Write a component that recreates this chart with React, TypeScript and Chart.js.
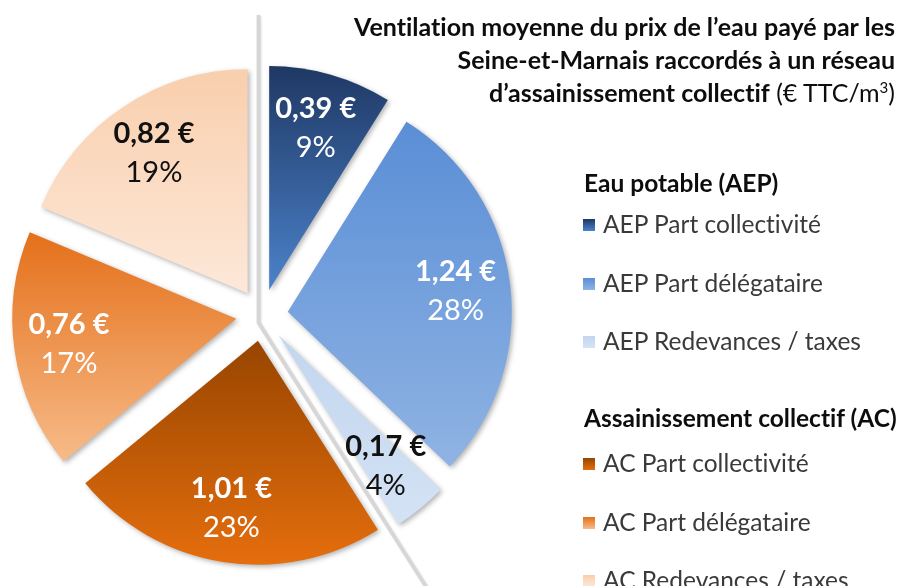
import React, { useEffect, useRef } from 'react';
import { Chart, registerables } from 'chart.js';

Chart.register(...registerables);

// ---------- data ----------
const categories = [
  'AEP Part collectivité',
  'AEP Part délégataire',
  'AEP Redevances / taxes',
  'AC Part collectivité',
  'AC Part délégataire',
  'AC Redevances / taxes',
];
const values = [0.39, 1.24, 0.17, 1.01, 0.76, 0.82];
const groupOf = [0, 0, 0, 1, 1, 1];
const groupTitles = ['Eau potable (AEP)', 'Assainissement collectif (AC)'];
const topColors = ['#1f3864', '#5a8ed6', '#c2d6ef', '#974500', '#e4701a', '#f9cfad'];
const bottomColors = ['#4b82ca', '#8fb3e3', '#d4e2f4', '#e56e0d', '#f7bb89', '#fde8d9'];
const labelColors = ['#ffffff', '#ffffff', '#111111', '#ffffff', '#ffffff', '#111111'];
const titleLines = [
  'Ventilation moyenne du prix de l’eau payé par les',
  'Seine-et-Marnais raccordés à un réseau',
  'd’assainissement collectif',
];
const titleUnit = '(€ TTC/m';

// ---------- style / layout ----------
const FONT = 'Lato, "Open Sans", sans-serif';
const EXPLODE = 26;
const RADIUS = 224;
const LABEL_POS = 0.755;
const SEP_TOP = 15;

const total = values.reduce((a, b) => a + b, 0);
const fmtEuro = (v: number) => v.toFixed(2).replace('.', ',') + ' €';
const fmtPct = (v: number) => Math.round((v / total) * 100) + '%';

function shiftVec(arc: any) {
  const mid = (arc.startAngle + arc.endAngle) / 2;
  return { x: Math.cos(mid) * EXPLODE, y: Math.sin(mid) * EXPLODE };
}

const explodePlugin = {
  id: 'explodeSlices',
  beforeDatasetsDraw(chart: any) {
    const ctx = chart.ctx;
    const arcs = chart.getDatasetMeta(0).data;
    if (!arcs.length) return;
    const cx = arcs[0].x;
    const cy = arcs[0].y;

    // group separators: mid-lines of the gaps between the AEP and AC groups
    const lineFor = (prev: number, next: number) => {
      const a = shiftVec(arcs[prev]);
      const b = shiftVec(arcs[next]);
      const th = arcs[next].startAngle;
      return {
        p: { x: cx + (a.x + b.x) / 2, y: cy + (a.y + b.y) / 2 },
        u: { x: Math.cos(th), y: Math.sin(th) },
      };
    };
    const firstAC = groupOf.indexOf(1);
    const L1 = lineFor(arcs.length - 1, 0);
    const L2 = lineFor(firstAC - 1, firstAC);
    const cross = (ax: number, ay: number, bx: number, by: number) => ax * by - ay * bx;
    const den = cross(L1.u.x, L1.u.y, L2.u.x, L2.u.y);
    const t = cross(L2.p.x - L1.p.x, L2.p.y - L1.p.y, L2.u.x, L2.u.y) / den;
    const J = { x: L1.p.x + t * L1.u.x, y: L1.p.y + t * L1.u.y };
    const t1 = (SEP_TOP - J.y) / L1.u.y;
    const t2 = (chart.height + 10 - J.y) / L2.u.y;
    ctx.save();
    ctx.strokeStyle = '#d6d6d6';
    ctx.lineWidth = 3.5;
    ctx.lineCap = 'butt';
    ctx.lineJoin = 'miter';
    ctx.shadowColor = 'rgba(0,0,0,0.18)';
    ctx.shadowBlur = 2;
    ctx.shadowOffsetX = 1;
    ctx.shadowOffsetY = 1;
    ctx.beginPath();
    ctx.moveTo(J.x + t1 * L1.u.x, J.y + t1 * L1.u.y);
    ctx.lineTo(J.x, J.y);
    ctx.lineTo(J.x + t2 * L2.u.x, J.y + t2 * L2.u.y);
    ctx.stroke();
    ctx.restore();

    // explode slices and give each a vertical gradient over its own extent
    arcs.forEach((arc: any, i: number) => {
      const s = shiftVec(arc);
      arc.$orig = { x: arc.x, y: arc.y };
      arc.x += s.x;
      arc.y += s.y;
      let minY = arc.y;
      let maxY = arc.y;
      const n = 60;
      for (let k = 0; k <= n; k++) {
        const a = arc.startAngle + ((arc.endAngle - arc.startAngle) * k) / n;
        const py = arc.y + arc.outerRadius * Math.sin(a);
        minY = Math.min(minY, py);
        maxY = Math.max(maxY, py);
      }
      const g = ctx.createLinearGradient(0, minY, 0, maxY);
      g.addColorStop(0, topColors[i]);
      g.addColorStop(1, bottomColors[i]);
      try {
        arc.options.backgroundColor = g;
      } catch (e) {
        /* ignore */
      }
    });

    ctx.save();
    ctx.shadowColor = 'rgba(0,0,0,0.30)';
    ctx.shadowBlur = 5;
    ctx.shadowOffsetX = 2;
    ctx.shadowOffsetY = 2;
  },
  afterDatasetsDraw(chart: any) {
    const ctx = chart.ctx;
    ctx.restore();
    const arcs = chart.getDatasetMeta(0).data;
    arcs.forEach((arc: any, i: number) => {
      const mid = (arc.startAngle + arc.endAngle) / 2;
      const r = arc.outerRadius * LABEL_POS;
      const lx = arc.x + Math.cos(mid) * r;
      const ly = arc.y + Math.sin(mid) * r;
      ctx.save();
      ctx.fillStyle = labelColors[i];
      ctx.textAlign = 'center';
      ctx.textBaseline = 'middle';
      ctx.font = `bold 29px ${FONT}`;
      ctx.fillText(fmtEuro(values[i]), lx, ly - 19);
      ctx.font = `29px ${FONT}`;
      ctx.fillText(fmtPct(values[i]), lx, ly + 20);
      ctx.restore();
      if (arc.$orig) {
        arc.x = arc.$orig.x;
        arc.y = arc.$orig.y;
      }
    });
  },
};

export default function App() {
  const canvasRef = useRef<HTMLCanvasElement | null>(null);

  useEffect(() => {
    if (!canvasRef.current) return;
    const chart = new Chart(canvasRef.current, {
      type: 'pie',
      data: {
        labels: categories,
        datasets: [
          {
            data: values,
            backgroundColor: topColors,
            borderWidth: 0,
            clip: false,
          } as any,
        ],
      },
      options: {
        responsive: false,
        animation: false,
        events: [],
        radius: RADIUS,
        layout: { padding: { left: 0, right: 381, top: 44, bottom: 0 } },
        plugins: {
          legend: { display: false },
          title: { display: false },
          tooltip: { enabled: false },
        },
      } as any,
      plugins: [explodePlugin],
    });
    return () => chart.destroy();
  }, []);

  const legendRows: { text: string; kind: 'head' | 'item'; idx: number; y: number }[] = [];
  const rowCenters = [183, 224, 283, 341, 418, 463, 522, 580];
  let r = 0;
  groupTitles.forEach((g, gi) => {
    legendRows.push({ text: g, kind: 'head', idx: -1, y: rowCenters[r++] });
    categories.forEach((c, ci) => {
      if (groupOf[ci] === gi) legendRows.push({ text: c, kind: 'item', idx: ci, y: rowCenters[r++] });
    });
  });

  return (
    <div
      style={{
        position: 'fixed',
        left: 0,
        top: 0,
        width: 905,
        height: 586,
        overflow: 'hidden',
        background: '#ffffff',
        fontFamily: FONT,
        fontVariantLigatures: 'none',
      }}
    >
      <canvas ref={canvasRef} width={905} height={586} style={{ position: 'absolute', left: 0, top: 0 }} />
      <div
        style={{
          position: 'absolute',
          right: 10,
          top: 10,
          textAlign: 'right',
          fontSize: 25,
          lineHeight: '33px',
          color: '#0d0d0d',
          whiteSpace: 'nowrap',
        }}
      >
        <div style={{ fontWeight: 700 }}>{titleLines[0]}</div>
        <div style={{ fontWeight: 700 }}>{titleLines[1]}</div>
        <div>
          <span style={{ fontWeight: 700 }}>{titleLines[2]}</span>
          <span style={{ fontWeight: 400 }}>
            {' '}
            {titleUnit}
            <sup style={{ fontSize: 15, lineHeight: 0, verticalAlign: 9 }}>3</sup>)
          </span>
        </div>
      </div>
      {legendRows.map((row, k) => (
        <div
          key={k}
          style={{
            position: 'absolute',
            left: row.kind === 'head' ? 584 : 583,
            top: row.y - 16,
            height: 32,
            lineHeight: '32px',
            fontSize: 24.5,
            fontWeight: row.kind === 'head' ? 700 : 400,
            color: row.kind === 'head' ? '#0d0d0d' : '#3a3a3a',
            whiteSpace: 'nowrap',
            display: 'flex',
            alignItems: 'center',
          }}
        >
          {row.kind === 'item' && (
            <span
              style={{
                display: 'inline-block',
                width: 12,
                height: 12,
                marginRight: 8,
                marginTop: 2,
                background: `linear-gradient(${topColors[row.idx]}, ${bottomColors[row.idx]})`,
              }}
            />
          )}
          <span>{row.text}</span>
        </div>
      ))}
    </div>
  );
}
